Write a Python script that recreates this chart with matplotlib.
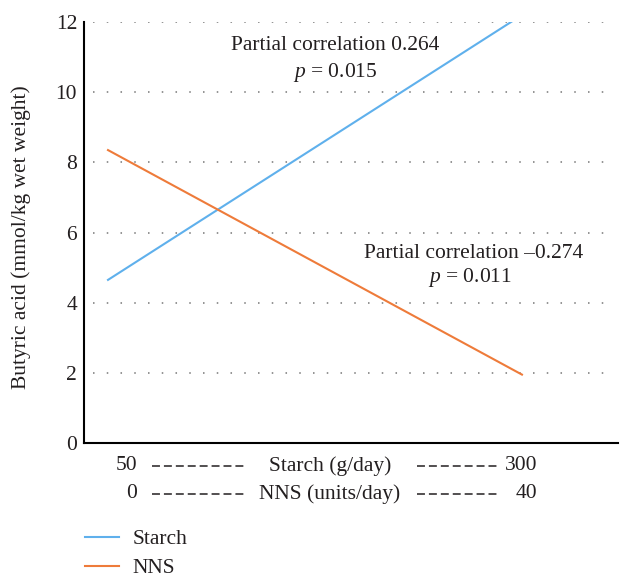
import matplotlib
matplotlib.use('Agg')
import matplotlib.pyplot as plt
from matplotlib.lines import Line2D

plt.rcParams['font.family'] = 'Liberation Serif'
plt.rcParams['mathtext.fontset'] = 'custom'
plt.rcParams['mathtext.rm'] = 'Liberation Serif'
plt.rcParams['mathtext.it'] = 'Liberation Serif:italic'

# starch intake (g/day) on the x axis; NNS 0-40 units/day maps onto the same span
starch_x = [50, 300]
starch_y = [4.65, 12.2]
nns_x = [50, 300]
nns_y = [8.35, 1.95]
yticks = [0, 2, 4, 6, 8, 10, 12]

blue = '#5fb0ec'
orange = '#ee7b3a'
txt = '#231f20'
fs = 15.5

fig = plt.figure(figsize=(6.33, 5.86), dpi=100)
ax = fig.add_axes([0.1327, 0.2440, 0.8436, 0.7184])

ax.plot(starch_x, starch_y, color=blue, lw=1.5, label='Starch')
ax.plot(nns_x, nns_y, color=orange, lw=1.5, label='NNS')

ax.set_xlim(35.5, 358)
ax.set_ylim(0, 12)
ax.set_yticks(yticks)
ax.set_xticks([])
ax.tick_params(axis='y', length=0, pad=5, labelsize=fs, labelcolor=txt)
for g in yticks[1:]:
    ax.axhline(g, xmin=0.017, xmax=0.99, color='#777777', lw=1.1,
               linestyle=(0, (1, 8)), zorder=0)

for s in ['top', 'right']:
    ax.spines[s].set_visible(False)
ax.spines['left'].set_linewidth(1.5)
ax.spines['bottom'].set_linewidth(1.5)

ax.set_ylabel('Butyric acid (mmol/kg wet weight)', fontsize=fs, color=txt)
ax.yaxis.set_label_coords(-0.099, 0.49)

ax.text(0.470, 0.945, 'Partial correlation 0.264', transform=ax.transAxes,
        ha='center', va='center', fontsize=fs, color=txt)
ax.text(0.470, 0.881, '$p$ = 0.015', transform=ax.transAxes,
        ha='center', va='center', fontsize=fs, color=txt)
ax.text(0.730, 0.451, 'Partial correlation \u20130.274', transform=ax.transAxes,
        ha='center', va='center', fontsize=fs, color=txt)
ax.text(0.723, 0.392, '$p$ = 0.011', transform=ax.transAxes,
        ha='center', va='center', fontsize=fs, color=txt)

# x axis description rows
rows = [(466, '50', 'Starch (g/day)', '300'),
        (494, '0', 'NNS (units/day)', '40')]
for ypx, lo, name, hi in rows:
    y = 1 - ypx / 586
    fig.text(137 / 633, y, lo, ha='right', va='center', fontsize=fs, color=txt)
    fig.text(330 / 633, y, name, ha='center', va='center', fontsize=fs, color=txt)
    fig.text(537 / 633, y, hi, ha='right', va='center', fontsize=fs, color=txt)
    for x0, x1 in [(152, 244), (417, 497)]:
        fig.add_artist(Line2D([x0 / 633, x1 / 633], [y, y], transform=fig.transFigure,
                              color=txt, lw=1.1, linestyle=(0, (5.2, 2.6))))

leg = ax.legend(loc='upper left', bbox_to_anchor=(85 / 633, 1 - 529 / 586),
                bbox_transform=fig.transFigure, frameon=False, fontsize=fs,
                handlelength=1.6, handletextpad=0.6, labelspacing=0.42,
                borderpad=0, borderaxespad=0)
for t in leg.get_texts():
    t.set_color(txt)

fig.savefig('out.png', dpi=100)
